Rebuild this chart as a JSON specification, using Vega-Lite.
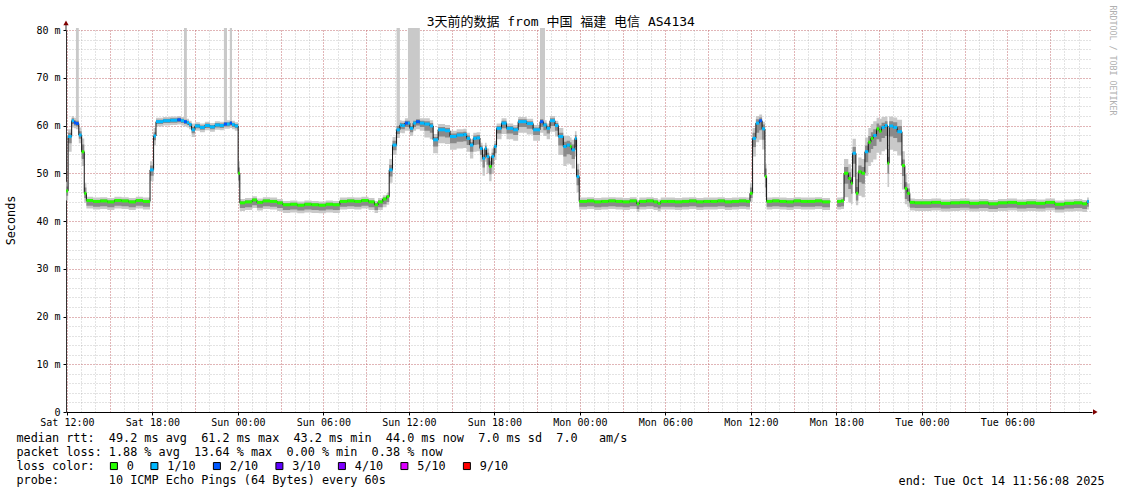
{
"$schema":"https://vega.github.io/schema/vega-lite/v6.json",
"width":1026,"height":382,
"autosize":{"type":"none"},
"padding":{"left":66,"top":30,"right":29,"bottom":82},
"background":"white",
"config":{"font":"DejaVu Sans Mono","view":{"stroke":null}},
"title":{"text":"3天前的数据 from 中国 福建 电信 AS4134","font":"DejaVu Sans Mono, Noto Sans CJK SC","fontSize":13,"fontWeight":"normal","color":"#000","anchor":"middle","frame":"bounds","baseline":"alphabetic","offset":-34},
"data":{"values":[
{"t":"2025-10-11T11:57Z","m":46.3,"c":"0","lo":44.3,"hi":48.2,"l2":45.3,"h2":47.2},
{"t":"2025-10-11T12:05Z","m":57.7,"c":"1/10","lo":54.5,"hi":59.2,"l2":56.3,"h2":58.5},
{"t":"2025-10-11T12:20Z","m":61.0,"c":"1/10","lo":59.6,"hi":62.0,"l2":60.3,"h2":61.5},
{"t":"2025-10-11T12:30Z","m":60.6,"c":"2/10","lo":59.4,"hi":61.6,"l2":60.0,"h2":61.1},
{"t":"2025-10-11T12:38Z","m":60.4,"c":"2/10","lo":59.2,"hi":80.4,"l2":59.8,"h2":61.0},
{"t":"2025-10-11T12:50Z","m":58.0,"c":"1/10","lo":56.3,"hi":59.6,"l2":57.2,"h2":58.8},
{"t":"2025-10-11T13:02Z","m":54.5,"c":"0","lo":51.5,"hi":57.3,"l2":53.0,"h2":56.0},
{"t":"2025-10-11T13:13Z","m":45.8,"c":"0","lo":43.8,"hi":48.0,"l2":44.8,"h2":47.0},
{"t":"2025-10-11T13:22Z","m":44.3,"c":"0","lo":42.6,"hi":45.1,"l2":43.2,"h2":44.6},
{"t":"2025-10-11T13:50Z","m":44.1,"c":"0","lo":42.4,"hi":44.9,"l2":43.0,"h2":44.4},
{"t":"2025-10-11T14:20Z","m":44.2,"c":"0","lo":42.5,"hi":45.0,"l2":43.1,"h2":44.5},
{"t":"2025-10-11T14:50Z","m":44.0,"c":"0","lo":42.3,"hi":44.8,"l2":42.9,"h2":44.3},
{"t":"2025-10-11T15:20Z","m":44.3,"c":"0","lo":42.6,"hi":45.1,"l2":43.2,"h2":44.6},
{"t":"2025-10-11T15:50Z","m":44.2,"c":"0","lo":42.5,"hi":45.0,"l2":43.1,"h2":44.5},
{"t":"2025-10-11T16:20Z","m":44.0,"c":"0","lo":42.3,"hi":44.8,"l2":42.9,"h2":44.3},
{"t":"2025-10-11T16:50Z","m":44.3,"c":"0","lo":42.6,"hi":45.1,"l2":43.2,"h2":44.6},
{"t":"2025-10-11T17:20Z","m":44.1,"c":"0","lo":42.4,"hi":44.9,"l2":43.0,"h2":44.4},
{"t":"2025-10-11T17:50Z","m":50.7,"c":"1/10","lo":48.3,"hi":52.5,"l2":49.5,"h2":51.6},
{"t":"2025-10-11T18:05Z","m":57.8,"c":"1/10","lo":55.8,"hi":59.5,"l2":56.9,"h2":58.6},
{"t":"2025-10-11T18:15Z","m":60.8,"c":"1/10","lo":59.8,"hi":61.6,"l2":60.3,"h2":61.2},
{"t":"2025-10-11T18:45Z","m":61.0,"c":"1/10","lo":60.0,"hi":61.8,"l2":60.5,"h2":61.4},
{"t":"2025-10-11T19:15Z","m":61.1,"c":"1/10","lo":60.1,"hi":61.9,"l2":60.6,"h2":61.5},
{"t":"2025-10-11T19:45Z","m":61.2,"c":"2/10","lo":60.2,"hi":62.0,"l2":60.7,"h2":61.6},
{"t":"2025-10-11T20:00Z","m":61.0,"c":"1/10","lo":60.0,"hi":61.8,"l2":60.5,"h2":61.4},
{"t":"2025-10-11T20:13Z","m":60.8,"c":"2/10","lo":59.8,"hi":80.4,"l2":60.3,"h2":61.2},
{"t":"2025-10-11T20:25Z","m":60.6,"c":"1/10","lo":59.6,"hi":61.4,"l2":60.1,"h2":61.0},
{"t":"2025-10-11T20:34Z","m":60.2,"c":"1/10","lo":59.2,"hi":61.0,"l2":59.7,"h2":60.6},
{"t":"2025-10-11T20:45Z","m":59.1,"c":"1/10","lo":57.6,"hi":60.4,"l2":58.4,"h2":59.7},
{"t":"2025-10-11T20:59Z","m":59.9,"c":"1/10","lo":58.9,"hi":60.7,"l2":59.4,"h2":60.3},
{"t":"2025-10-11T21:20Z","m":59.6,"c":"1/10","lo":58.6,"hi":60.4,"l2":59.1,"h2":60.0},
{"t":"2025-10-11T21:41Z","m":60.0,"c":"1/10","lo":59.0,"hi":60.8,"l2":59.5,"h2":60.4},
{"t":"2025-10-11T22:02Z","m":59.7,"c":"1/10","lo":58.7,"hi":60.5,"l2":59.2,"h2":60.1},
{"t":"2025-10-11T22:23Z","m":60.1,"c":"1/10","lo":59.1,"hi":60.9,"l2":59.6,"h2":60.5},
{"t":"2025-10-11T22:44Z","m":60.0,"c":"1/10","lo":59.0,"hi":60.8,"l2":59.5,"h2":60.4},
{"t":"2025-10-11T23:01Z","m":60.3,"c":"2/10","lo":59.3,"hi":80.4,"l2":59.8,"h2":60.7},
{"t":"2025-10-11T23:14Z","m":60.3,"c":"1/10","lo":59.3,"hi":61.1,"l2":59.8,"h2":60.7},
{"t":"2025-10-11T23:26Z","m":60.5,"c":"2/10","lo":59.5,"hi":80.4,"l2":60.0,"h2":60.9},
{"t":"2025-10-11T23:35Z","m":60.2,"c":"1/10","lo":59.2,"hi":61.0,"l2":59.7,"h2":60.6},
{"t":"2025-10-11T23:47Z","m":59.9,"c":"1/10","lo":58.9,"hi":60.7,"l2":59.4,"h2":60.3},
{"t":"2025-10-12T00:01Z","m":50.0,"c":"0","lo":47.0,"hi":52.5,"l2":48.5,"h2":51.2},
{"t":"2025-10-12T00:08Z","m":43.8,"c":"0","lo":42.1,"hi":44.6,"l2":42.7,"h2":44.1},
{"t":"2025-10-12T00:30Z","m":44.0,"c":"0","lo":42.3,"hi":44.8,"l2":42.9,"h2":44.3},
{"t":"2025-10-12T01:00Z","m":44.4,"c":"0","lo":42.7,"hi":45.2,"l2":43.3,"h2":44.7},
{"t":"2025-10-12T01:20Z","m":43.9,"c":"0","lo":42.2,"hi":44.7,"l2":42.8,"h2":44.2},
{"t":"2025-10-12T01:45Z","m":44.2,"c":"0","lo":42.5,"hi":45.0,"l2":43.1,"h2":44.5},
{"t":"2025-10-12T02:15Z","m":44.1,"c":"0","lo":42.4,"hi":44.9,"l2":43.0,"h2":44.4},
{"t":"2025-10-12T02:45Z","m":43.8,"c":"0","lo":42.1,"hi":44.6,"l2":42.7,"h2":44.1},
{"t":"2025-10-12T03:09Z","m":43.4,"c":"0","lo":41.7,"hi":44.2,"l2":42.3,"h2":43.7},
{"t":"2025-10-12T03:40Z","m":43.5,"c":"0","lo":41.8,"hi":44.3,"l2":42.4,"h2":43.8},
{"t":"2025-10-12T04:10Z","m":43.3,"c":"0","lo":41.6,"hi":44.1,"l2":42.2,"h2":43.6},
{"t":"2025-10-12T04:40Z","m":43.5,"c":"0","lo":41.8,"hi":44.3,"l2":42.4,"h2":43.8},
{"t":"2025-10-12T05:10Z","m":43.4,"c":"0","lo":41.7,"hi":44.2,"l2":42.3,"h2":43.7},
{"t":"2025-10-12T05:40Z","m":43.3,"c":"0","lo":41.6,"hi":44.1,"l2":42.2,"h2":43.6},
{"t":"2025-10-12T06:10Z","m":43.5,"c":"0","lo":41.8,"hi":44.3,"l2":42.4,"h2":43.8},
{"t":"2025-10-12T06:40Z","m":43.4,"c":"0","lo":41.7,"hi":44.2,"l2":42.3,"h2":43.7},
{"t":"2025-10-12T07:09Z","m":44.1,"c":"0","lo":42.4,"hi":44.9,"l2":43.0,"h2":44.4},
{"t":"2025-10-12T07:40Z","m":44.2,"c":"0","lo":42.5,"hi":45.0,"l2":43.1,"h2":44.5},
{"t":"2025-10-12T08:10Z","m":44.1,"c":"0","lo":42.4,"hi":44.9,"l2":43.0,"h2":44.4},
{"t":"2025-10-12T08:40Z","m":44.3,"c":"0","lo":42.6,"hi":45.1,"l2":43.2,"h2":44.6},
{"t":"2025-10-12T09:10Z","m":44.0,"c":"0","lo":42.3,"hi":44.8,"l2":42.9,"h2":44.3},
{"t":"2025-10-12T09:35Z","m":43.4,"c":"0","lo":41.7,"hi":44.2,"l2":42.3,"h2":43.7},
{"t":"2025-10-12T09:50Z","m":44.0,"c":"0","lo":42.3,"hi":44.8,"l2":42.9,"h2":44.3},
{"t":"2025-10-12T10:10Z","m":44.6,"c":"0","lo":42.9,"hi":45.4,"l2":43.5,"h2":44.9},
{"t":"2025-10-12T10:26Z","m":45.1,"c":"0","lo":43.4,"hi":45.9,"l2":44.0,"h2":45.4},
{"t":"2025-10-12T10:37Z","m":50.7,"c":"1/10","lo":48.0,"hi":53.0,"l2":49.3,"h2":51.8},
{"t":"2025-10-12T10:51Z","m":55.9,"c":"1/10","lo":53.8,"hi":57.6,"l2":54.8,"h2":56.8},
{"t":"2025-10-12T11:08Z","m":59.1,"c":"1/10","lo":57.4,"hi":80.4,"l2":58.2,"h2":59.9},
{"t":"2025-10-12T11:22Z","m":60.1,"c":"1/10","lo":58.5,"hi":61.1,"l2":59.3,"h2":60.6},
{"t":"2025-10-12T11:29Z","m":60.0,"c":"1/10","lo":58.4,"hi":61.0,"l2":59.2,"h2":60.5},
{"t":"2025-10-12T11:43Z","m":60.5,"c":"2/10","lo":58.9,"hi":61.5,"l2":59.7,"h2":61.0},
{"t":"2025-10-12T11:56Z","m":60.5,"c":"1/10","lo":58.9,"hi":80.4,"l2":59.7,"h2":61.0},
{"t":"2025-10-12T12:04Z","m":59.4,"c":"1/10","lo":57.8,"hi":80.4,"l2":58.6,"h2":59.9},
{"t":"2025-10-12T12:18Z","m":60.5,"c":"1/10","lo":58.9,"hi":80.4,"l2":59.7,"h2":61.0},
{"t":"2025-10-12T12:30Z","m":60.8,"c":"2/10","lo":59.2,"hi":80.4,"l2":60.0,"h2":61.3},
{"t":"2025-10-12T12:46Z","m":60.5,"c":"1/10","lo":58.9,"hi":61.5,"l2":59.7,"h2":61.0},
{"t":"2025-10-12T13:05Z","m":60.3,"c":"1/10","lo":57.5,"hi":61.5,"l2":58.9,"h2":60.9},
{"t":"2025-10-12T13:28Z","m":59.9,"c":"1/10","lo":57.1,"hi":61.1,"l2":58.5,"h2":60.5},
{"t":"2025-10-12T13:42Z","m":57.0,"c":"1/10","lo":54.2,"hi":58.2,"l2":55.6,"h2":57.6},
{"t":"2025-10-12T14:03Z","m":59.1,"c":"1/10","lo":56.3,"hi":60.3,"l2":57.7,"h2":59.7},
{"t":"2025-10-12T14:32Z","m":58.9,"c":"1/10","lo":56.1,"hi":60.1,"l2":57.5,"h2":59.5},
{"t":"2025-10-12T14:53Z","m":57.7,"c":"1/10","lo":54.9,"hi":58.9,"l2":56.3,"h2":58.3},
{"t":"2025-10-12T15:21Z","m":58.0,"c":"1/10","lo":55.2,"hi":59.2,"l2":56.6,"h2":58.6},
{"t":"2025-10-12T15:49Z","m":58.1,"c":"1/10","lo":55.3,"hi":59.3,"l2":56.7,"h2":58.7},
{"t":"2025-10-12T16:03Z","m":57.3,"c":"1/10","lo":54.5,"hi":58.5,"l2":55.9,"h2":57.9},
{"t":"2025-10-12T16:17Z","m":55.9,"c":"1/10","lo":53.1,"hi":57.1,"l2":54.5,"h2":56.5},
{"t":"2025-10-12T16:31Z","m":57.3,"c":"1/10","lo":54.5,"hi":58.5,"l2":55.9,"h2":57.9},
{"t":"2025-10-12T16:45Z","m":57.4,"c":"1/10","lo":54.6,"hi":58.6,"l2":56.0,"h2":58.0},
{"t":"2025-10-12T16:59Z","m":55.2,"c":"1/10","lo":52.4,"hi":56.4,"l2":53.8,"h2":55.8},
{"t":"2025-10-12T17:10Z","m":53.1,"c":"1/10","lo":49.5,"hi":55.0,"l2":51.2,"h2":54.0},
{"t":"2025-10-12T17:20Z","m":55.2,"c":"1/10","lo":52.4,"hi":56.4,"l2":53.8,"h2":55.8},
{"t":"2025-10-12T17:27Z","m":53.5,"c":"1/10","lo":50.0,"hi":55.2,"l2":51.8,"h2":54.3},
{"t":"2025-10-12T17:38Z","m":51.4,"c":"0","lo":48.3,"hi":53.5,"l2":49.8,"h2":52.5},
{"t":"2025-10-12T17:48Z","m":53.5,"c":"1/10","lo":50.0,"hi":55.2,"l2":51.8,"h2":54.3},
{"t":"2025-10-12T17:59Z","m":55.6,"c":"1/10","lo":52.8,"hi":56.8,"l2":54.2,"h2":56.2},
{"t":"2025-10-12T18:09Z","m":59.4,"c":"1/10","lo":57.1,"hi":60.4,"l2":58.3,"h2":59.9},
{"t":"2025-10-12T18:30Z","m":60.5,"c":"1/10","lo":58.2,"hi":61.5,"l2":59.4,"h2":61.0},
{"t":"2025-10-12T18:51Z","m":59.4,"c":"1/10","lo":57.1,"hi":60.4,"l2":58.3,"h2":59.9},
{"t":"2025-10-12T19:19Z","m":59.1,"c":"1/10","lo":56.8,"hi":60.1,"l2":58.0,"h2":59.6},
{"t":"2025-10-12T19:40Z","m":60.8,"c":"1/10","lo":58.5,"hi":61.8,"l2":59.7,"h2":61.3},
{"t":"2025-10-12T20:16Z","m":60.4,"c":"1/10","lo":58.1,"hi":61.4,"l2":59.3,"h2":60.9},
{"t":"2025-10-12T20:43Z","m":59.1,"c":"1/10","lo":56.8,"hi":60.1,"l2":58.0,"h2":59.6},
{"t":"2025-10-12T21:12Z","m":60.8,"c":"2/10","lo":58.5,"hi":80.4,"l2":59.7,"h2":61.3},
{"t":"2025-10-12T21:26Z","m":60.1,"c":"1/10","lo":57.8,"hi":80.4,"l2":59.0,"h2":60.6},
{"t":"2025-10-12T21:33Z","m":60.1,"c":"1/10","lo":57.8,"hi":61.1,"l2":59.0,"h2":60.6},
{"t":"2025-10-12T21:40Z","m":59.4,"c":"1/10","lo":57.1,"hi":60.4,"l2":58.3,"h2":59.9},
{"t":"2025-10-12T21:54Z","m":61.0,"c":"1/10","lo":58.7,"hi":62.0,"l2":59.9,"h2":61.5},
{"t":"2025-10-12T22:15Z","m":60.0,"c":"1/10","lo":57.7,"hi":61.0,"l2":58.9,"h2":60.5},
{"t":"2025-10-12T22:29Z","m":57.7,"c":"1/10","lo":53.8,"hi":59.5,"l2":55.8,"h2":58.5},
{"t":"2025-10-12T22:50Z","m":55.6,"c":"1/10","lo":51.5,"hi":57.8,"l2":53.5,"h2":56.6},
{"t":"2025-10-12T23:04Z","m":55.9,"c":"1/10","lo":52.0,"hi":57.8,"l2":54.0,"h2":56.8},
{"t":"2025-10-12T23:18Z","m":55.6,"c":"0","lo":51.8,"hi":57.5,"l2":53.8,"h2":56.5},
{"t":"2025-10-12T23:25Z","m":54.9,"c":"1/10","lo":51.0,"hi":57.0,"l2":53.0,"h2":56.0},
{"t":"2025-10-12T23:39Z","m":57.3,"c":"1/10","lo":53.5,"hi":58.8,"l2":55.5,"h2":58.0},
{"t":"2025-10-12T23:46Z","m":49.3,"c":"1/10","lo":46.0,"hi":52.0,"l2":47.5,"h2":50.8},
{"t":"2025-10-12T23:57Z","m":44.1,"c":"0","lo":42.4,"hi":44.9,"l2":43.0,"h2":44.4},
{"t":"2025-10-13T00:30Z","m":44.2,"c":"0","lo":42.5,"hi":45.0,"l2":43.1,"h2":44.5},
{"t":"2025-10-13T01:00Z","m":44.0,"c":"0","lo":42.3,"hi":44.8,"l2":42.9,"h2":44.3},
{"t":"2025-10-13T01:30Z","m":44.1,"c":"0","lo":42.4,"hi":44.9,"l2":43.0,"h2":44.4},
{"t":"2025-10-13T02:00Z","m":44.2,"c":"0","lo":42.5,"hi":45.0,"l2":43.1,"h2":44.5},
{"t":"2025-10-13T02:30Z","m":44.1,"c":"0","lo":42.4,"hi":44.9,"l2":43.0,"h2":44.4},
{"t":"2025-10-13T03:00Z","m":44.0,"c":"0","lo":42.3,"hi":44.8,"l2":42.9,"h2":44.3},
{"t":"2025-10-13T03:30Z","m":44.2,"c":"0","lo":42.5,"hi":45.0,"l2":43.1,"h2":44.5},
{"t":"2025-10-13T03:59Z","m":43.6,"c":"0","lo":41.9,"hi":44.4,"l2":42.5,"h2":43.9},
{"t":"2025-10-13T04:10Z","m":44.1,"c":"0","lo":42.4,"hi":44.9,"l2":43.0,"h2":44.4},
{"t":"2025-10-13T04:40Z","m":44.2,"c":"0","lo":42.5,"hi":45.0,"l2":43.1,"h2":44.5},
{"t":"2025-10-13T05:10Z","m":44.0,"c":"0","lo":42.3,"hi":44.8,"l2":42.9,"h2":44.3},
{"t":"2025-10-13T05:28Z","m":43.7,"c":"0","lo":42.0,"hi":44.5,"l2":42.6,"h2":44.0},
{"t":"2025-10-13T05:40Z","m":44.1,"c":"0","lo":42.4,"hi":44.9,"l2":43.0,"h2":44.4},
{"t":"2025-10-13T06:10Z","m":44.1,"c":"0","lo":42.4,"hi":44.9,"l2":43.0,"h2":44.4},
{"t":"2025-10-13T06:40Z","m":44.0,"c":"0","lo":42.3,"hi":44.8,"l2":42.9,"h2":44.3},
{"t":"2025-10-13T07:10Z","m":44.1,"c":"0","lo":42.4,"hi":44.9,"l2":43.0,"h2":44.4},
{"t":"2025-10-13T07:40Z","m":44.2,"c":"0","lo":42.5,"hi":45.0,"l2":43.1,"h2":44.5},
{"t":"2025-10-13T08:10Z","m":44.0,"c":"0","lo":42.3,"hi":44.8,"l2":42.9,"h2":44.3},
{"t":"2025-10-13T08:40Z","m":44.1,"c":"0","lo":42.4,"hi":44.9,"l2":43.0,"h2":44.4},
{"t":"2025-10-13T09:10Z","m":44.1,"c":"0","lo":42.4,"hi":44.9,"l2":43.0,"h2":44.4},
{"t":"2025-10-13T09:40Z","m":44.2,"c":"0","lo":42.5,"hi":45.0,"l2":43.1,"h2":44.5},
{"t":"2025-10-13T10:10Z","m":44.0,"c":"0","lo":42.3,"hi":44.8,"l2":42.9,"h2":44.3},
{"t":"2025-10-13T10:40Z","m":44.1,"c":"0","lo":42.4,"hi":44.9,"l2":43.0,"h2":44.4},
{"t":"2025-10-13T11:10Z","m":44.2,"c":"0","lo":42.5,"hi":45.0,"l2":43.1,"h2":44.5},
{"t":"2025-10-13T11:40Z","m":44.1,"c":"0","lo":42.4,"hi":44.9,"l2":43.0,"h2":44.4},
{"t":"2025-10-13T11:56Z","m":45.8,"c":"0","lo":44.0,"hi":48.0,"l2":44.8,"h2":47.0},
{"t":"2025-10-13T12:07Z","m":57.3,"c":"1/10","lo":53.5,"hi":59.5,"l2":55.5,"h2":58.5},
{"t":"2025-10-13T12:21Z","m":60.5,"c":"1/10","lo":56.5,"hi":62.0,"l2":58.5,"h2":61.3},
{"t":"2025-10-13T12:35Z","m":61.0,"c":"2/10","lo":57.0,"hi":62.3,"l2":59.0,"h2":61.7},
{"t":"2025-10-13T12:47Z","m":59.3,"c":"1/10","lo":55.0,"hi":60.8,"l2":57.0,"h2":60.2},
{"t":"2025-10-13T12:59Z","m":49.3,"c":"0","lo":45.0,"hi":52.0,"l2":47.0,"h2":51.0},
{"t":"2025-10-13T13:06Z","m":44.1,"c":"0","lo":42.4,"hi":44.9,"l2":43.0,"h2":44.4},
{"t":"2025-10-13T13:30Z","m":44.2,"c":"0","lo":42.5,"hi":45.0,"l2":43.1,"h2":44.5},
{"t":"2025-10-13T14:00Z","m":44.1,"c":"0","lo":42.4,"hi":44.9,"l2":43.0,"h2":44.4},
{"t":"2025-10-13T14:30Z","m":44.0,"c":"0","lo":42.3,"hi":44.8,"l2":42.9,"h2":44.3},
{"t":"2025-10-13T15:00Z","m":44.2,"c":"0","lo":42.5,"hi":45.0,"l2":43.1,"h2":44.5},
{"t":"2025-10-13T15:30Z","m":44.1,"c":"0","lo":42.4,"hi":44.9,"l2":43.0,"h2":44.4},
{"t":"2025-10-13T16:00Z","m":44.1,"c":"0","lo":42.4,"hi":44.9,"l2":43.0,"h2":44.4},
{"t":"2025-10-13T16:30Z","m":44.2,"c":"0","lo":42.5,"hi":45.0,"l2":43.1,"h2":44.5},
{"t":"2025-10-13T17:00Z","m":44.0,"c":"0","lo":42.3,"hi":44.8,"l2":42.9,"h2":44.3},
{"t":"2025-10-13T17:33Z","m":44.1,"c":"0","lo":42.4,"hi":44.9,"l2":43.0,"h2":44.4},
{"t":"2025-10-13T17:34Z","m":null,"c":"0","lo":null,"hi":null,"l2":null,"h2":null},
{"t":"2025-10-13T18:03Z","m":44.1,"c":"0","lo":42.4,"hi":44.9,"l2":43.0,"h2":44.4},
{"t":"2025-10-13T18:20Z","m":44.2,"c":"0","lo":42.5,"hi":45.0,"l2":43.1,"h2":44.5},
{"t":"2025-10-13T18:32Z","m":50.0,"c":"0","lo":45.0,"hi":53.0,"l2":47.8,"h2":51.3},
{"t":"2025-10-13T18:50Z","m":48.9,"c":"0","lo":43.9,"hi":51.9,"l2":46.7,"h2":50.2},
{"t":"2025-10-13T19:01Z","m":47.9,"c":"0","lo":43.5,"hi":50.9,"l2":45.7,"h2":49.2},
{"t":"2025-10-13T19:08Z","m":54.2,"c":"1/10","lo":49.2,"hi":57.2,"l2":52.0,"h2":55.5},
{"t":"2025-10-13T19:22Z","m":45.8,"c":"0","lo":43.3,"hi":48.8,"l2":44.3,"h2":47.1},
{"t":"2025-10-13T19:32Z","m":50.3,"c":"0","lo":45.3,"hi":53.3,"l2":48.1,"h2":51.6},
{"t":"2025-10-13T19:46Z","m":50.0,"c":"0","lo":45.0,"hi":53.0,"l2":47.8,"h2":51.3},
{"t":"2025-10-13T20:00Z","m":54.5,"c":"1/10","lo":49.5,"hi":57.5,"l2":52.3,"h2":55.8},
{"t":"2025-10-13T20:14Z","m":56.5,"c":"0","lo":51.5,"hi":59.5,"l2":54.3,"h2":57.8},
{"t":"2025-10-13T20:25Z","m":57.3,"c":"0","lo":52.3,"hi":60.3,"l2":55.1,"h2":58.6},
{"t":"2025-10-13T20:35Z","m":57.9,"c":"1/10","lo":52.9,"hi":60.9,"l2":55.7,"h2":59.2},
{"t":"2025-10-13T20:49Z","m":59.3,"c":"0","lo":54.3,"hi":61.6,"l2":57.1,"h2":60.4},
{"t":"2025-10-13T21:00Z","m":58.8,"c":"0","lo":53.8,"hi":61.4,"l2":56.6,"h2":60.0},
{"t":"2025-10-13T21:10Z","m":59.6,"c":"1/10","lo":54.6,"hi":61.8,"l2":57.4,"h2":60.6},
{"t":"2025-10-13T21:24Z","m":60.0,"c":"1/10","lo":55.0,"hi":61.9,"l2":57.8,"h2":60.9},
{"t":"2025-10-13T21:35Z","m":52.1,"c":"0","lo":47.1,"hi":55.1,"l2":49.9,"h2":53.4},
{"t":"2025-10-13T21:42Z","m":59.9,"c":"1/10","lo":54.9,"hi":61.9,"l2":57.7,"h2":60.9},
{"t":"2025-10-13T21:59Z","m":59.6,"c":"1/10","lo":54.6,"hi":61.7,"l2":57.4,"h2":60.7},
{"t":"2025-10-13T22:16Z","m":58.7,"c":"1/10","lo":53.7,"hi":61.2,"l2":56.5,"h2":59.9},
{"t":"2025-10-13T22:36Z","m":51.6,"c":"0","lo":46.6,"hi":54.6,"l2":49.4,"h2":52.9},
{"t":"2025-10-13T22:48Z","m":46.8,"c":"0","lo":43.5,"hi":49.8,"l2":44.6,"h2":48.1},
{"t":"2025-10-13T22:58Z","m":45.8,"c":"0","lo":43.0,"hi":47.8,"l2":44.2,"h2":46.8},
{"t":"2025-10-13T23:09Z","m":43.9,"c":"0","lo":42.2,"hi":44.7,"l2":42.8,"h2":44.2},
{"t":"2025-10-13T23:30Z","m":43.8,"c":"0","lo":42.1,"hi":44.6,"l2":42.7,"h2":44.1},
{"t":"2025-10-14T00:00Z","m":43.8,"c":"0","lo":42.1,"hi":44.6,"l2":42.7,"h2":44.1},
{"t":"2025-10-14T00:40Z","m":43.9,"c":"0","lo":42.2,"hi":44.7,"l2":42.8,"h2":44.2},
{"t":"2025-10-14T01:20Z","m":43.7,"c":"0","lo":42.0,"hi":44.5,"l2":42.6,"h2":44.0},
{"t":"2025-10-14T02:00Z","m":43.8,"c":"0","lo":42.1,"hi":44.6,"l2":42.7,"h2":44.1},
{"t":"2025-10-14T02:40Z","m":43.9,"c":"0","lo":42.2,"hi":44.7,"l2":42.8,"h2":44.2},
{"t":"2025-10-14T03:20Z","m":43.7,"c":"0","lo":42.0,"hi":44.5,"l2":42.6,"h2":44.0},
{"t":"2025-10-14T04:00Z","m":43.8,"c":"0","lo":42.1,"hi":44.6,"l2":42.7,"h2":44.1},
{"t":"2025-10-14T04:40Z","m":43.6,"c":"0","lo":41.9,"hi":44.4,"l2":42.5,"h2":43.9},
{"t":"2025-10-14T05:20Z","m":43.8,"c":"0","lo":42.1,"hi":44.6,"l2":42.7,"h2":44.1},
{"t":"2025-10-14T06:00Z","m":43.9,"c":"0","lo":42.2,"hi":44.7,"l2":42.8,"h2":44.2},
{"t":"2025-10-14T06:40Z","m":43.7,"c":"0","lo":42.0,"hi":44.5,"l2":42.6,"h2":44.0},
{"t":"2025-10-14T07:20Z","m":43.8,"c":"0","lo":42.1,"hi":44.6,"l2":42.7,"h2":44.1},
{"t":"2025-10-14T08:00Z","m":43.7,"c":"0","lo":42.0,"hi":44.5,"l2":42.6,"h2":44.0},
{"t":"2025-10-14T08:40Z","m":43.9,"c":"0","lo":42.2,"hi":44.7,"l2":42.8,"h2":44.2},
{"t":"2025-10-14T09:20Z","m":43.5,"c":"0","lo":41.8,"hi":44.3,"l2":42.4,"h2":43.8},
{"t":"2025-10-14T10:00Z","m":43.7,"c":"0","lo":42.0,"hi":44.5,"l2":42.6,"h2":44.0},
{"t":"2025-10-14T10:40Z","m":43.8,"c":"0","lo":42.1,"hi":44.6,"l2":42.7,"h2":44.1},
{"t":"2025-10-14T11:15Z","m":43.6,"c":"0","lo":41.9,"hi":44.4,"l2":42.5,"h2":43.9},
{"t":"2025-10-14T11:35Z","m":44.1,"c":"1/10","lo":42.4,"hi":44.9,"l2":43.0,"h2":44.4},
{"t":"2025-10-14T11:43Z","m":44.1,"c":"1/10","lo":42.4,"hi":44.9,"l2":43.0,"h2":44.4}
]},
"layer":[
{"mark":{"type":"area","interpolate":"step-after","color":"#c9c9c9","opacity":1,"clip":false},
 "encoding":{
  "x":{"field":"t","type":"temporal","scale":{"type":"utc","domain":[1760183768000,1760442968000]},
   "axis":{"orient":"bottom","values":[1760184000000,1760187600000,1760191200000,1760194800000,1760198400000,1760202000000,1760205600000,1760209200000,1760212800000,1760216400000,1760220000000,1760223600000,1760227200000,1760230800000,1760234400000,1760238000000,1760241600000,1760245200000,1760248800000,1760252400000,1760256000000,1760259600000,1760263200000,1760266800000,1760270400000,1760274000000,1760277600000,1760281200000,1760284800000,1760288400000,1760292000000,1760295600000,1760299200000,1760302800000,1760306400000,1760310000000,1760313600000,1760317200000,1760320800000,1760324400000,1760328000000,1760331600000,1760335200000,1760338800000,1760342400000,1760346000000,1760349600000,1760353200000,1760356800000,1760360400000,1760364000000,1760367600000,1760371200000,1760374800000,1760378400000,1760382000000,1760385600000,1760389200000,1760392800000,1760396400000,1760400000000,1760403600000,1760407200000,1760410800000,1760414400000,1760418000000,1760421600000,1760425200000,1760428800000,1760432400000,1760436000000,1760439600000],"grid":true,"gridColor":"#8f8f8f","gridOpacity":0.5,"gridDash":[1,2],"gridWidth":1,"labels":false,"ticks":false,"domain":false,"title":null}},
  "y":{"field":"hi","type":"quantitative","scale":{"domain":[0,80],"nice":false,"zero":false,"padding":0},
   "axis":{"orient":"left","values":[0,2,4,6,8,10,12,14,16,18,20,22,24,26,28,30,32,34,36,38,40,42,44,46,48,50,52,54,56,58,60,62,64,66,68,70,72,74,76,78,80],"grid":true,"gridColor":"#8f8f8f","gridOpacity":0.5,"gridDash":[1,2],"gridWidth":1,"labels":false,"ticks":false,"domain":false,"title":null}},
  "y2":{"field":"lo"}}},
{"mark":{"type":"area","interpolate":"step-after","color":"#8a8a8a","opacity":1},
 "encoding":{
  "x":{"field":"t","type":"temporal","scale":{"type":"utc","domain":[1760183768000,1760442968000]},"axis":null},
  "y":{"field":"h2","type":"quantitative","scale":{"domain":[0,80],"nice":false,"zero":false,"padding":0},"axis":null},
  "y2":{"field":"l2"}}},
{"mark":{"type":"line","interpolate":"step-after","color":"#111111","strokeWidth":1},
 "encoding":{
  "x":{"field":"t","type":"temporal","scale":{"type":"utc","domain":[1760183768000,1760442968000]},
   "axis":{"orient":"bottom","values":[1760184000000,1760194800000,1760205600000,1760216400000,1760227200000,1760238000000,1760248800000,1760259600000,1760270400000,1760281200000,1760292000000,1760302800000,1760313600000,1760324400000,1760335200000,1760346000000,1760356800000,1760367600000,1760378400000,1760389200000,1760400000000,1760410800000,1760421600000,1760432400000],"grid":true,"gridColor":"#DE4B50","gridOpacity":0.6,"gridDash":[1,2],"gridWidth":1,"labels":false,"ticks":false,"domain":false,
    "title":"end:\u00a0Tue\u00a0Oct\u00a014\u00a011:56:08\u00a02025","titleX":1038,"titleY":72,"titleAlign":"right","titleAnchor":"end","titleBaseline":"alphabetic","titleAngle":0,"titleFont":"DejaVu Sans Mono","titleFontSize":11.8,"titleFontWeight":"normal","titleColor":"#000"}},
  "y":{"field":"m","type":"quantitative","scale":{"domain":[0,80],"nice":false,"zero":false,"padding":0},
   "axis":{"orient":"left","values":[0,10,20,30,40,50,60,70,80],"grid":true,"gridColor":"#DE4B50","gridOpacity":0.6,"gridDash":[1,2],"gridWidth":1,
    "labelExpr":"datum.value == 0 ? '0\u00a0\u00a0' : datum.value + '\u00a0m'","labelFont":"DejaVu Sans Mono","labelFontSize":10,"labelColor":"#000","labelPadding":3,"labelFlush":false,"labelOverlap":false,
    "ticks":true,"tickSize":3,"tickColor":"#000","domain":true,"domainColor":"#333333",
    "title":"Seconds","titleX":-56,"titleY":190,"titleAngle":-90,"titleAlign":"center","titleBaseline":"middle","titleFont":"DejaVu Sans Mono","titleFontSize":11.8,"titleFontWeight":"normal","titleColor":"#000"}}}},
{"transform":[{"window":[{"op":"lead","field":"t","as":"t2"}],"sort":[{"field":"t","order":"ascending"}]}],
 "mark":{"type":"bar","size":3,"opacity":1},
 "encoding":{
  "x":{"field":"t","type":"temporal","scale":{"type":"utc","domain":[1760183768000,1760442968000]},
   "axis":{"orient":"bottom","values":[1760184000000,1760205600000,1760227200000,1760248800000,1760270400000,1760292000000,1760313600000,1760335200000,1760356800000,1760378400000,1760400000000,1760421600000],"labelExpr":"utcFormat(datum.value, '%a %H:%M')","labelFont":"DejaVu Sans Mono","labelFontSize":10,"labelColor":"#000","labelFlush":false,"labelOverlap":false,"labelPadding":2,
    "ticks":true,"tickSize":3,"tickColor":"#000","domain":true,"domainColor":"#000","grid":false,
    "title":["median\u00a0rtt:\u00a0\u00a049.2\u00a0ms\u00a0avg\u00a0\u00a061.2\u00a0ms\u00a0max\u00a0\u00a043.2\u00a0ms\u00a0min\u00a0\u00a044.0\u00a0ms\u00a0now\u00a0\u00a07.0\u00a0ms\u00a0sd\u00a0\u00a07.0\u00a0\u00a0\u00a0am/s","packet\u00a0loss:\u00a01.88\u00a0%\u00a0avg\u00a0\u00a013.64\u00a0%\u00a0max\u00a0\u00a00.00\u00a0%\u00a0min\u00a0\u00a00.38\u00a0%\u00a0now","loss\u00a0color:","probe:\u00a0\u00a0\u00a0\u00a0\u00a0\u00a0\u00a010\u00a0ICMP\u00a0Echo\u00a0Pings\u00a0(64\u00a0Bytes)\u00a0every\u00a060s"],
    "titleX":-50,"titleY":29,"titleAlign":"left","titleAnchor":"start","titleBaseline":"alphabetic","titleAngle":0,"titleFont":"DejaVu Sans Mono","titleFontSize":11.8,"titleFontWeight":"normal","titleColor":"#000","titleLineHeight":14.3}},
  "x2":{"field":"t2"},
  "y":{"field":"m","type":"quantitative","scale":{"domain":[0,80],"nice":false,"zero":false,"padding":0},
   "axis":{"orient":"right","labels":false,"ticks":false,"domain":false,"grid":false,
    "title":"RRDTOOL / TOBI OETIKER","titleX":19.5,"titleY":30,"titleAngle":90,"titleAlign":"center","titleBaseline":"middle","titleFont":"DejaVu Sans Mono","titleFontSize":8.3,"titleFontWeight":"normal","titleColor":"#b0b0b0"}},
  "color":{"field":"c","type":"nominal",
   "scale":{"domain":["0","1/10","2/10","3/10","4/10","5/10","9/10"],"range":["#26ff00","#00b8ff","#0059ff","#5e00ff","#7e00ff","#dd00ff","#ff0000"]},
   "legend":{"orient":"none","legendX":42,"legendY":430,"direction":"horizontal","columns":7,"title":null,"symbolType":"square","symbolSize":49,"symbolStrokeWidth":1,"symbolStrokeColor":"#000","symbolOpacity":1,
    "labelFont":"DejaVu Sans Mono","labelFontSize":11.8,"labelColor":"#000","labelOffset":7,"columnPadding":14.5,"padding":0}}}},
{"data":{"values":[{"t":"2025-10-11T11:56:08Z","v":81.5,"b":80}]},
 "mark":{"type":"rule","color":"#333333","strokeWidth":1},
 "encoding":{
  "x":{"field":"t","type":"temporal","scale":{"type":"utc","domain":[1760183768000,1760442968000]},"axis":null},
  "y":{"field":"v","type":"quantitative","scale":{"domain":[0,80],"nice":false,"zero":false,"padding":0},"axis":null},
  "y2":{"field":"b"}}},
{"data":{"values":[{"t":"2025-10-11T11:56:08Z","v":81.5}]},
 "mark":{"type":"point","shape":"triangle-up","filled":true,"color":"#7F0000","size":28,"opacity":1},
 "encoding":{
  "x":{"field":"t","type":"temporal","scale":{"type":"utc","domain":[1760183768000,1760442968000]},"axis":null},
  "y":{"field":"v","type":"quantitative","scale":{"domain":[0,80],"nice":false,"zero":false,"padding":0},"axis":null}}},
{"data":{"values":[{"t":"2025-10-14T12:10:00Z","v":0}]},
 "mark":{"type":"point","shape":"triangle-right","filled":true,"color":"#7F0000","size":28,"opacity":1},
 "encoding":{
  "x":{"field":"t","type":"temporal","scale":{"type":"utc","domain":[1760183768000,1760442968000]},"axis":null},
  "y":{"field":"v","type":"quantitative","scale":{"domain":[0,80],"nice":false,"zero":false,"padding":0},"axis":null}}}
],
"resolve":{"axis":{"x":"independent","y":"independent"}}
}
